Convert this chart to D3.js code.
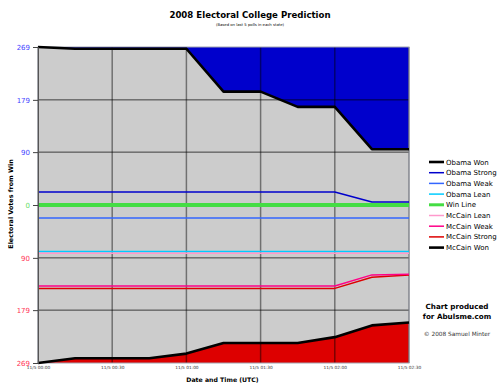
<!DOCTYPE html>
<html><head><meta charset="utf-8">
<script src="https://cdn.jsdelivr.net/npm/d3@7/dist/d3.min.js"></script>
<style>body{margin:0;background:#fff}svg{display:block}</style>
</head><body><svg id="c" width="500" height="391"></svg>
<script>
// ---- data ----
const times = ["2008-11-05T00:00Z","2008-11-05T00:15Z","2008-11-05T00:30Z","2008-11-05T00:45Z",
  "2008-11-05T01:00Z","2008-11-05T01:15Z","2008-11-05T01:30Z","2008-11-05T01:45Z",
  "2008-11-05T02:00Z","2008-11-05T02:15Z","2008-11-05T02:30Z"];
// signed "electoral votes from win": positive = Obama side (top), negative = McCain side (bottom)
const obamaWon    = [269,266,266,266,266,193,193,167,167,95,95];
const obamaStrong = [22,22,22,22,22,22,22,22,22,5,5];
const obamaWeak   = [-22,-22,-22,-22,-22,-22,-22,-22,-22,-22,-22];
const obamaLean   = [-79,-79,-79,-79,-79,-79,-79,-79,-79,-79,-79];
const winLine     = [0,0,0,0,0,0,0,0,0,0,0];
const mccainLean  = [-82,-82,-82,-82,-82,-82,-82,-82,-82,-82,-82];
const mccainWeak  = [-138,-138,-138,-138,-138,-138,-138,-138,-138,-119,-118];
const mccainStrong= [-142,-142,-142,-142,-142,-142,-142,-142,-142,-123,-119];
const mccainWon   = [-269,-261,-261,-261,-253,-235,-235,-235,-225,-205,-200];
const yTicks      = [269,179,90,0,-90,-179,-269];
const xTickTimes  = ["2008-11-05T00:00Z","2008-11-05T00:30Z","2008-11-05T01:00Z","2008-11-05T01:30Z","2008-11-05T02:00Z","2008-11-05T02:30Z"];
const seriesNames = ["Obama Won","Obama Strong","Obama Weak","Obama Lean","Win Line","McCain Lean","McCain Weak","McCain Strong","McCain Won"];

// ---- styles ----
const styles = {
  "Obama Won":    {color:"#000000", w:2.6},
  "Obama Strong": {color:"#0000cc", w:1.5},
  "Obama Weak":   {color:"#3366ff", w:1.5},
  "Obama Lean":   {color:"#00ccff", w:1.5},
  "Win Line":     {color:"#44dd44", w:4},
  "McCain Lean":  {color:"#ff99cc", w:1.5},
  "McCain Weak":  {color:"#ff0088", w:1.5},
  "McCain Strong":{color:"#dd0000", w:1.5},
  "McCain Won":   {color:"#000000", w:2.6}
};
const seriesData = {
  "Obama Won":obamaWon,"Obama Strong":obamaStrong,"Obama Weak":obamaWeak,"Obama Lean":obamaLean,
  "Win Line":winLine,"McCain Lean":mccainLean,"McCain Weak":mccainWeak,"McCain Strong":mccainStrong,"McCain Won":mccainWon
};

const svg = d3.select("#c");
const FONT = "'DejaVu Sans', Verdana, sans-serif";
const dates = times.map(t => new Date(t));
const L = 38, R = 409, T = 47, B = 363;
const x = d3.scaleUtc().domain([dates[0], dates[dates.length-1]]).range([L, R]);
const y = d3.scaleLinear().domain([-269, 269]).range([B, T]);

// background
svg.append("rect").attr("x",L).attr("y",T).attr("width",R-L).attr("height",B-T).attr("fill","#cccccc");

// fills
svg.append("path").datum(obamaWon.map((v,i)=>[dates[i],v]))
  .attr("fill","#0000cc")
  .attr("d", d3.area().x(d=>x(d[0])).y0(y(269)).y1(d=>y(d[1])));
svg.append("path").datum(mccainWon.map((v,i)=>[dates[i],v]))
  .attr("fill","#dd0000")
  .attr("d", d3.area().x(d=>x(d[0])).y0(y(-269)).y1(d=>y(d[1])));

// grid
const xt = xTickTimes.map(t=>new Date(t));
svg.append("g").selectAll("line").data(xt).join("line")
  .attr("x1",d=>x(d)).attr("x2",d=>x(d)).attr("y1",T).attr("y2",B)
  .attr("stroke","rgba(0,0,0,0.45)").attr("stroke-width",1.5);
svg.append("g").selectAll("line").data(yTicks.filter(v=>Math.abs(v)!==269)).join("line")
  .attr("x1",L).attr("x2",R).attr("y1",d=>y(d)).attr("y2",d=>y(d))
  .attr("stroke","rgba(0,0,0,0.7)").attr("stroke-width",1);

// border
svg.append("rect").attr("x",L).attr("y",T).attr("width",R-L).attr("height",B-T)
  .attr("fill","none").attr("stroke","#a0a4b0").attr("stroke-width",1);

// lines
const line = d3.line().x(d=>x(d[0])).y(d=>y(d[1]));
const drawOrder = ["Obama Lean","McCain Lean","Obama Weak","McCain Strong","McCain Weak","Obama Strong","Win Line","Obama Won","McCain Won"];
drawOrder.forEach(n=>{
  svg.append("path").datum(seriesData[n].map((v,i)=>[dates[i],v]))
    .attr("fill","none").attr("stroke",styles[n].color).attr("stroke-width",styles[n].w)
    .attr("stroke-linejoin","round").attr("d",line);
});

// y axis ticks
const yAxis = d3.axisLeft(y).tickValues(yTicks).tickSize(5).tickPadding(3)
  .tickFormat(d=>Math.abs(d));
const gy = svg.append("g").attr("transform",`translate(${L},0)`).call(yAxis);
gy.select(".domain").attr("stroke","#555");
gy.selectAll(".tick line").attr("stroke","#444");
gy.selectAll(".tick text").attr("font-family",FONT).attr("font-size",7)
  .attr("fill",d=> d>0 ? "#4444ff" : (d<0 ? "#ff3355" : "#66dd66"));

// x axis ticks
const xAxis = d3.axisBottom(x).tickValues(xt).tickSize(0).tickPadding(3)
  .tickFormat(d=>"11/5 " + d3.utcFormat("%H:%M")(d));
const gx = svg.append("g").attr("transform",`translate(0,${B})`).call(xAxis);
gx.select(".domain").remove();
gx.selectAll(".tick text").attr("font-family",FONT).attr("font-size",4.3).attr("fill","#333");

// titles
svg.append("text").attr("x",250).attr("y",18).attr("text-anchor","middle")
  .attr("font-family",FONT).attr("font-weight","bold").attr("font-size",8.6).attr("fill","#000")
  .text("2008 Electoral College Prediction");
svg.append("text").attr("x",250).attr("y",25.5).attr("text-anchor","middle")
  .attr("font-family",FONT).attr("font-size",3.8).attr("fill","#000")
  .text("(Based on last 5 polls in each state)");
svg.append("text").attr("x",(L+R)/2 - 1).attr("y",382).attr("text-anchor","middle")
  .attr("font-family",FONT).attr("font-weight","bold").attr("font-size",6.2).attr("fill","#000")
  .text("Date and Time (UTC)");
svg.append("text").attr("transform",`translate(13,204) rotate(-90)`).attr("text-anchor","middle")
  .attr("font-family",FONT).attr("font-weight","bold").attr("font-size",6.4).attr("fill","#000")
  .text("Electoral Votes from Win");

// legend
const lg = svg.append("g");
seriesNames.forEach((n,i)=>{
  const yy = 162 + i*10.7;
  lg.append("line").attr("x1",429).attr("x2",444).attr("y1",yy).attr("y2",yy)
    .attr("stroke",styles[n].color).attr("stroke-width",Math.min(styles[n].w,3));
  lg.append("text").attr("x",446).attr("y",yy+2.5).attr("font-family",FONT).attr("font-size",7)
    .attr("fill","#000").text(n);
});

// credits
svg.append("text").attr("x",457).attr("y",309).attr("text-anchor","middle")
  .attr("font-family",FONT).attr("font-weight","bold").attr("font-size",7.2).text("Chart produced");
svg.append("text").attr("x",457).attr("y",318.5).attr("text-anchor","middle")
  .attr("font-family",FONT).attr("font-weight","bold").attr("font-size",7.2).text("for Abulsme.com");
svg.append("text").attr("x",457).attr("y",336).attr("text-anchor","middle")
  .attr("font-family",FONT).attr("font-size",5.8).attr("fill","#333").text("© 2008 Samuel Minter");
</script>
</body></html>
